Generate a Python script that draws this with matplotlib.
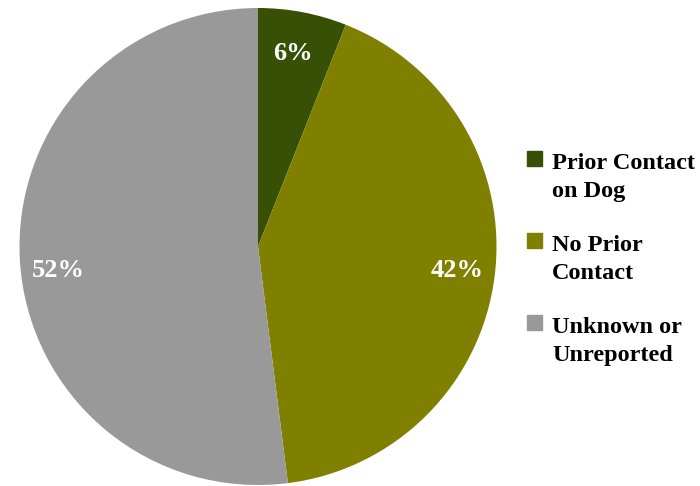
import matplotlib.pyplot as plt
from matplotlib.patches import Rectangle

plt.rcParams['font.family'] = ['Liberation Serif', 'DejaVu Serif']

# share of cases by prior contact
labels = ["Prior Contact\non Dog", "No Prior\nContact", "Unknown or\nUnreported"]
values = [6, 42, 52]
colors = ["#375006", "#808000", "#999999"]

W, H = 700, 486
fig = plt.figure(figsize=(W / 100, H / 100), dpi=100)
ax = fig.add_axes([19 / W, 1 / H, 478 / W, 477 / H])

wedges, texts, autotexts = ax.pie(
    values, colors=colors, startangle=90, counterclock=False,
    autopct="%d%%", pctdistance=0.84, radius=1,
    textprops=dict(color="white", fontsize=19, fontweight="bold"))
ax.set_aspect("equal")
ax.set_xlim(-1, 1)
ax.set_ylim(-1, 1)

# nudge the percentage labels
label_pos = [(0.146, 0.81), (0.837, -0.10), (-0.837, -0.10)]
for t, p in zip(autotexts, label_pos):
    t.set_position(p)

# legend: square aligned with the first line of each label
for i, (lab, col) in enumerate(zip(labels, colors)):
    base = 167 + 82 * i
    fig.patches.append(Rectangle((527 / W, 1 - (base - 1) / H), 15 / W, 15 / H,
                                 transform=fig.transFigure, color=col))
    # baseline alignment anchors the last line, so drop by one line
    fig.text(552 / W, 1 - (base + 30) / H, lab, fontsize=17.5, fontweight="bold",
             va="baseline", ha="left", linespacing=1.45)

fig.savefig("out.png", dpi=100)
